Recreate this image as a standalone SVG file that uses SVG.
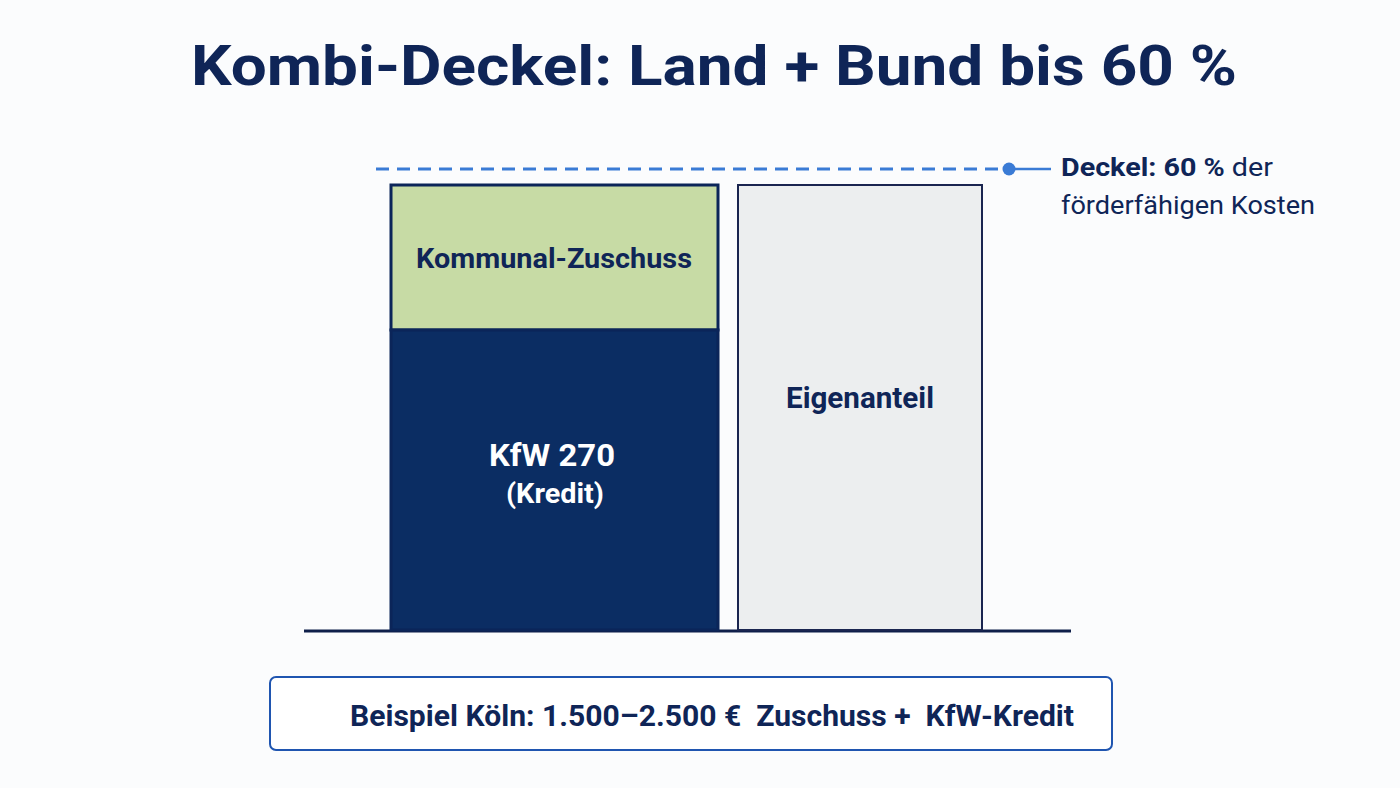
<svg xmlns="http://www.w3.org/2000/svg" width="1400" height="788" viewBox="0 0 1400 788">
<style>
.t{font-family:"Roboto","Liberation Sans",sans-serif;fill:#0f2557;font-weight:700}
.r{font-weight:400}
</style>
<rect width="1400" height="788" fill="#fbfcfd"/>
<text class="t" x="714" y="85" font-size="56" text-anchor="middle" textLength="1046" lengthAdjust="spacingAndGlyphs">Kombi-Deckel: Land + Bund bis 60 %</text>
<g id="connectors">
<line x1="376" y1="169" x2="1000" y2="169" stroke="#3a7bd5" stroke-width="3" stroke-dasharray="13 8"/>
<line x1="1009" y1="169" x2="1051" y2="169" stroke="#3a7bd5" stroke-width="2.5"/>
<circle cx="1009" cy="169" r="6.5" fill="#3a7bd5"/>
<line x1="304" y1="631" x2="1071" y2="631" stroke="#0f1f4a" stroke-width="3"/>
</g>
<g id="cap-label">
<text class="t" x="1061" y="176" font-size="26.5" textLength="212" lengthAdjust="spacingAndGlyphs">Deckel: 60 %<tspan class="r"> der</tspan></text>
<text class="t r" x="1061" y="214" font-size="26.5" textLength="254" lengthAdjust="spacingAndGlyphs">förderfähigen Kosten</text>
</g>
<g id="kommunal">
<rect x="391" y="185" width="327" height="145" fill="#c7dba5" stroke="#0b2559" stroke-width="3"/>
<text class="t" x="554" y="268" font-size="28" text-anchor="middle" textLength="276" lengthAdjust="spacingAndGlyphs">Kommunal-Zuschuss</text>
</g>
<g id="kfw">
<rect x="391" y="330" width="327" height="300" fill="#0b2d63" stroke="#0b2559" stroke-width="3"/>
<text class="t" x="552" y="466" font-size="32" text-anchor="middle" textLength="126" lengthAdjust="spacingAndGlyphs" style="fill:#fff">KfW 270</text>
<text class="t" x="555" y="503" font-size="27" text-anchor="middle" textLength="98" lengthAdjust="spacingAndGlyphs" style="fill:#fff">(Kredit)</text>
</g>
<g id="eigenanteil">
<rect x="738" y="185" width="244" height="445" fill="#eceeef" stroke="#1a2550" stroke-width="2"/>
<text class="t" x="860" y="408" font-size="29" text-anchor="middle" textLength="148" lengthAdjust="spacingAndGlyphs">Eigenanteil</text>
</g>
<g id="example">
<rect x="270" y="677" width="842" height="73" rx="6" fill="#fff" stroke="#1f55b0" stroke-width="2"/>
<text class="t" x="350" y="726" font-size="29" xml:space="preserve" textLength="724" lengthAdjust="spacingAndGlyphs">Beispiel Köln: 1.500–2.500 €  Zuschuss +  KfW-Kredit</text>
</g>
</svg>
